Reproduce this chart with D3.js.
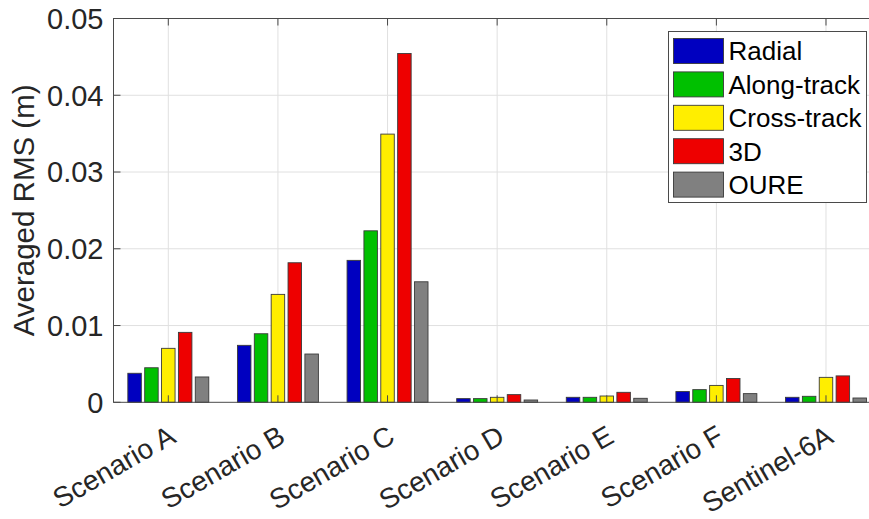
<!DOCTYPE html>
<html>
<head>
<meta charset="utf-8">
<script src="https://cdn.jsdelivr.net/npm/d3@7"></script>
<style>
  html, body { margin: 0; padding: 0; background: #fff; }
  svg { display: block; font-family: "Liberation Sans", Arial, Helvetica, sans-serif; }
</style>
</head>
<body>
<svg id="chart" width="869" height="519"></svg>
<script>
// Categories (one group of bars per category)
const categories = ["Scenario A", "Scenario B", "Scenario C", "Scenario D", "Scenario E", "Scenario F", "Sentinel-6A"];

// Series names and colours
const seriesNames = ["Radial", "Along-track", "Cross-track", "3D", "OURE"];
const seriesColors = ["#0000c0", "#00c000", "#ffee00", "#ee0000", "#808080"];

// Averaged RMS (m) per series, in category order
const radial     = [0.00378, 0.00742, 0.01849, 0.00048, 0.00065, 0.00140, 0.00065];
const alongTrack = [0.00450, 0.00893, 0.02234, 0.00048, 0.00065, 0.00165, 0.00078];
const crossTrack = [0.00703, 0.01406, 0.03494, 0.00065, 0.00082, 0.00220, 0.00325];
const threeD     = [0.00911, 0.01818, 0.04544, 0.00100, 0.00130, 0.00310, 0.00344];
const oure       = [0.00330, 0.00629, 0.01570, 0.00030, 0.00052, 0.00113, 0.00056];

// Y-axis ticks and labels
const yTicks = [0, 0.01, 0.02, 0.03, 0.04, 0.05];
const yTickLabels = ["0", "0.01", "0.02", "0.03", "0.04", "0.05"];
const yLabel = "Averaged RMS (m)";

const seriesValues = [radial, alongTrack, crossTrack, threeD, oure];

const svg = d3.select("#chart");
const W = 869, H = 519;

// Plot box (right edge runs past the visible frame)
const plotL = 113.5, plotR = 880.8, plotT = 18.5, plotB = 402.3;
const axisColor = "#4a4a4a";
const textColor = "#262626";
const tickFont = 29;
const xTickFont = 28;
const labelFont = 29.5;
const legendFont = 26;

const x = d3.scaleBand().domain(categories).range([plotL, plotR]).padding(0);
const groupW = x.bandwidth() * Math.min(0.8, seriesNames.length / (seriesNames.length + 1.5));
const xs = d3.scaleBand().domain(seriesNames)
  .range([-groupW / 2, groupW / 2]).paddingInner(0.2).paddingOuter(0.1);
const y = d3.scaleLinear().domain([0, 0.05]).range([plotB, plotT]);
const cx = d => x(d) + x.bandwidth() / 2;

svg.append("defs").append("clipPath").attr("id", "plotclip")
  .append("rect").attr("x", 0).attr("y", 0).attr("width", W).attr("height", H);

const plot = svg.append("g").attr("clip-path", "url(#plotclip)");

// Grid lines
plot.append("g").selectAll("line").data(yTicks.slice(1)).join("line")
  .attr("x1", plotL).attr("x2", plotR)
  .attr("y1", d => y(d)).attr("y2", d => y(d))
  .attr("stroke", "#e0e0e0").attr("stroke-width", 1);
plot.append("g").selectAll("line").data(categories).join("line")
  .attr("x1", cx).attr("x2", cx)
  .attr("y1", plotT).attr("y2", plotB)
  .attr("stroke", "#e0e0e0").attr("stroke-width", 1);

// Bars
const groups = plot.append("g").selectAll("g").data(categories).join("g")
  .attr("transform", d => `translate(${cx(d)},0)`);
groups.selectAll("rect").data((c, ci) => seriesNames.map((s, si) => ({ s, si, v: seriesValues[si][ci] })))
  .join("rect")
  .attr("x", d => xs(d.s))
  .attr("width", xs.bandwidth())
  .attr("y", d => y(d.v))
  .attr("height", d => y(0) - y(d.v))
  .attr("fill", d => seriesColors[d.si])
  .attr("stroke", "#3a3a3a")
  .attr("stroke-width", 0.9);

// Axes frame
const axes = svg.append("g").attr("clip-path", "url(#plotclip)");
axes.append("rect")
  .attr("x", plotL).attr("y", plotT)
  .attr("width", plotR - plotL).attr("height", plotB - plotT)
  .attr("fill", "none").attr("stroke", axisColor).attr("stroke-width", 1);

// Inward tick marks
const tickLen = 7;
axes.append("g").selectAll("line").data(yTicks).join("line")
  .attr("x1", plotL).attr("x2", plotL + tickLen)
  .attr("y1", d => y(d)).attr("y2", d => y(d))
  .attr("stroke", axisColor);
axes.append("g").selectAll("line").data(categories).join("line")
  .attr("x1", cx).attr("x2", cx)
  .attr("y1", plotB).attr("y2", plotB - tickLen)
  .attr("stroke", axisColor);
axes.append("g").selectAll("line").data(categories).join("line")
  .attr("x1", cx).attr("x2", cx)
  .attr("y1", plotT).attr("y2", plotT + tickLen)
  .attr("stroke", axisColor);

// Y tick labels
svg.append("g").selectAll("text").data(yTicks).join("text")
  .attr("x", plotL - 10)
  .attr("y", d => y(d))
  .attr("dy", "0.36em")
  .attr("text-anchor", "end")
  .attr("font-size", tickFont)
  .attr("fill", textColor)
  .text((d, i) => yTickLabels[i]);

// X tick labels, rotated
svg.append("g").selectAll("text").data(categories).join("text")
  .attr("transform", d => `translate(${cx(d) + 9},${plotB + 39}) rotate(-30)`)
  .attr("text-anchor", "end")
  .attr("font-size", xTickFont)
  .attr("fill", textColor)
  .text(d => d);

// Y axis title
svg.append("text")
  .attr("transform", `translate(34,${(plotT + plotB) / 2}) rotate(-90)`)
  .attr("text-anchor", "middle")
  .attr("font-size", labelFont)
  .attr("fill", textColor)
  .text(yLabel);

// Legend
const lg = svg.append("g").attr("transform", "translate(668.5,31.5)");
lg.append("rect").attr("width", 198).attr("height", 171)
  .attr("fill", "#fff").attr("stroke", axisColor).attr("stroke-width", 1);
const rowH = 33.4;
const items = lg.selectAll("g").data(seriesNames).join("g")
  .attr("transform", (d, i) => `translate(5,${7 + i * rowH})`);
items.append("rect").attr("width", 50).attr("height", 25)
  .attr("fill", (d, i) => seriesColors[i])
  .attr("stroke", "#3a3a3a").attr("stroke-width", 0.9);
items.append("text").attr("x", 55).attr("y", 12.5).attr("dy", "0.36em")
  .attr("font-size", legendFont).attr("fill", "#000")
  .text(d => d);
</script>
</body>
</html>
